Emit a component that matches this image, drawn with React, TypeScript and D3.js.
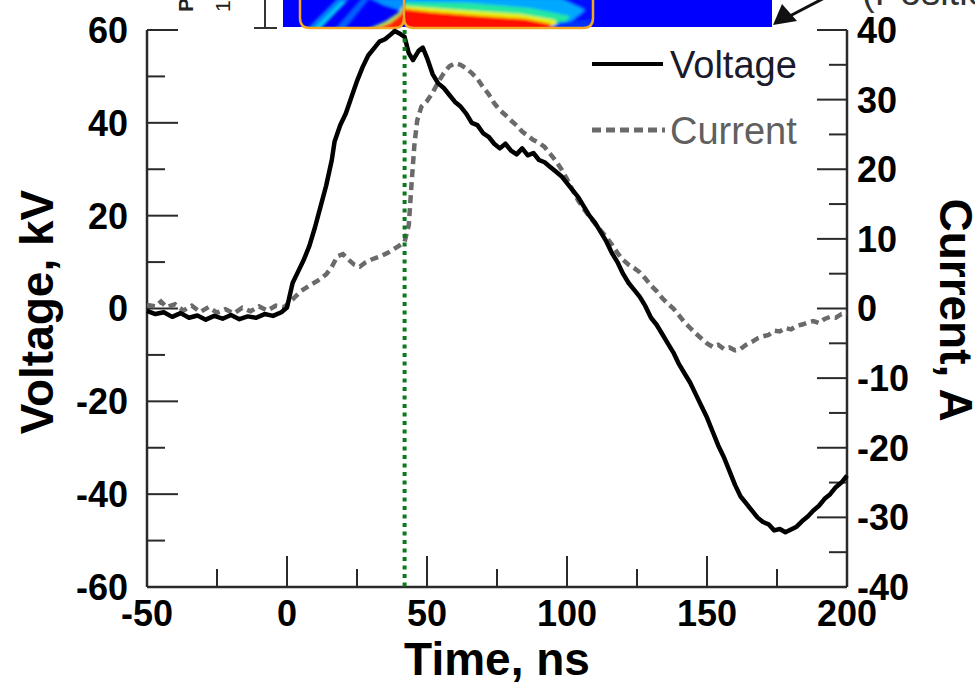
import React from "react";
import * as d3 from "d3";

const voltT = [-50,-47,-44,-41,-38,-35,-32,-29,-26,-23,-20,-17,-14,-11,-8,-5,-2,0,2,4,6,8,10,12,14,16,17,19,21,23,25,27,29,31,33,35,37,38.5,40,42,43.5,45,47,48.5,50,52,54,56,58,60,62,64,66,68,70,72,74,76,78,80,82,84,86,88,90,92,94,96,98,100,102,104,106,108,110,112,114,116,118,120,122,124,126,128,130,132,134,136,138,140,142,144,146,148,150,152,154,156,158,160,162,164,166,168,170,172,174,176,178,180,182,184,186,188,190,192,194,196,198,200];
const voltV = [-0.5,-1.2,-0.8,-1.8,-1.0,-2.0,-1.5,-2.4,-1.6,-2.2,-1.4,-2.3,-1.7,-2.0,-1.2,-1.6,-0.8,0.2,5.5,8.0,10.5,13.5,17.5,22,26.5,32,36,39.5,42,45.5,49,52,54.5,56,57.5,58,59,59.8,59.3,58.5,55,53.5,55.5,56.2,54,50.5,48.5,47.5,46,44.5,43.5,42,40,39.5,37.8,37,35.5,34.5,35.5,34,33.2,34.5,33,33.5,32,31.5,30.5,29.5,28.5,27,25.5,24,22,20,18.5,16.5,14.5,12,10,7.5,5.5,4,2.5,0.5,-2,-3.5,-5.5,-7.5,-9.5,-12,-14,-16,-18.5,-21,-23.5,-26.5,-29.5,-32,-35,-38,-40.5,-42,-43.5,-45,-46,-46.5,-47.8,-47.5,-48.2,-47.6,-47,-45.8,-44.8,-43.5,-42.5,-41,-40,-38.5,-37.5,-36];

const curT = [-50,-47,-45,-43,-40,-37,-34,-31,-28,-25,-22,-19,-16,-13,-10,-7,-4,-1,2,5,8,11,14,16,18,20,22,24,26,28,30,32,34,36,38,40,42,43.5,44.5,45.5,46.5,48,50,52,54,56,58,60,62,64,66,68,70,72,74,76,78,80,82,84,86,88,90,92,94,96,98,100,102,104,106,108,110,112,114,116,118,120,122,124,126,128,130,132,134,136,138,140,142,144,146,148,150,152,154,156,158,160,162,164,166,168,170,172,174,176,178,180,182,184,186,188,190,192,194,196,198,200];
const curI = [0.5,0.3,1.0,0.2,0.6,-0.3,0.4,-0.5,0.2,-0.6,-0.1,-0.7,0.1,-0.4,0.3,-0.3,0.4,0.2,1.3,2.5,3.3,4.0,4.9,6,7.5,7.8,7.0,6.3,6.0,6.6,7.0,7.3,7.6,8.0,8.5,9.0,9.6,12,18,23.5,27,29,29.8,31,32.5,33.8,34.8,35.2,35,34.5,33.8,33,31.8,30.8,29.5,28.5,27.8,27,26.3,25.4,24.8,24.2,23.8,23.2,22.2,21.2,20,18.6,17,15.5,14.3,13.2,12.2,11.2,10.3,9.2,8,7,6.3,5.8,5.2,4.3,3.3,2.5,1.5,0.7,0,-1,-2,-2.8,-3.6,-4.3,-5,-5.5,-5.2,-5.8,-5.6,-6.0,-5.8,-5.2,-4.8,-4.3,-4,-3.8,-3.2,-3.3,-2.8,-3,-2.5,-2.3,-2,-1.8,-2.1,-1.5,-1.2,-1.3,-0.8,-0.7];

const xTicks = [-50, 0, 50, 100, 150, 200];
const xMinor = [-25, 25, 75, 125, 175];
const yLTicks = [-60, -40, -20, 0, 20, 40, 60];
const yLMinor = [-50, -30, -10, 10, 30, 50];
const yRTicks = [-40, -30, -20, -10, 0, 10, 20, 30, 40];
const yRMinor = [-35, -25, -15, -5, 5, 15, 25, 35];
const markerTime = 42;
const legendItems = ["Voltage", "Current"];

export default function App() {
  const x = d3.scaleLinear().domain([-50, 200]).range([147, 847]);
  const yL = d3.scaleLinear().domain([-60, 60]).range([587, 30]);
  const yR = d3.scaleLinear().domain([-40, 40]).range([587, 30]);

  const voltLine = d3.line<number>().x((_, i) => x(voltT[i])).y((d) => yL(d))(voltV) || "";
  const curLine = d3.line<number>().x((_, i) => x(curT[i])).y((d) => yR(d))(curI) || "";

  const axisColor = "#2a2a2a";
  const font = "'Liberation Sans', Arial, sans-serif";
  const x0 = x(-50), x1 = x(200), yb = yL(-60), yt = yL(60);

  return (
    <svg width={975} height={683} style={{ position: "absolute", left: 0, top: 0, background: "#fff" }} fontFamily={font}>
      <defs>
        <filter id="blur" x="-10%" y="-50%" width="120%" height="200%">
          <feGaussianBlur stdDeviation="1.8" />
        </filter>
        <clipPath id="box1"><path d="M300,-2 V18 Q300,28 310,28 H394 Q404,28 404,18 V-2 Z" /></clipPath>
        <clipPath id="box2"><path d="M404,-2 V18 Q404,28 414,28 H583 Q593,28 593,18 V-2 Z" /></clipPath>
      </defs>

      {/* streak image at top */}
      <rect x={283} y={-2} width={489} height={29} fill="#0000ff" />
      <g clipPath="url(#box1)">
        <g filter="url(#blur)">
          <polygon points="306,30 338,-2 350,-2 318,30" fill="#0080ff" />
          <polygon points="313,30 341,2 346,2 319,30" fill="#00d0f0" />
          <polygon points="334,30 362,-2 370,-2 344,30" fill="#0060ff" />
          <polygon points="368,-2 404,-2 404,12 384,6" fill="#0090ff" />
          <polygon points="366,30 386,21 398,13 404,5 406,30" fill="#a0f060" />
          <polygon points="372,30 390,23 400,15 404,9 406,30" fill="#ff2000" />
        </g>
      </g>
      <g clipPath="url(#box2)">
        <g filter="url(#blur)">
          <rect x={404} y={-2} width={190} height={32} fill="#0010ff" />
          <polygon points="404,-2 560,-2 585,10 560,30 404,30" fill="#00a8ff" />
          <polygon points="404,2 470,3 530,8 570,16 560,30 404,30" fill="#20e8a0" />
          <polygon points="404,6 460,10 520,14 555,20 560,30 404,30" fill="#e8f000" />
          <polygon points="404,9 430,12 480,16 525,19 550,24 555,30 404,30" fill="#ff1000" />
          <polygon points="545,30 560,22 600,20 600,30" fill="#0030ff" />
        </g>
      </g>
      <path d="M300,-2 V18 Q300,28 310,28 H394 Q404,28 404,18 V-2" fill="none" stroke="#f5a623" strokeWidth={2.5} />
      <path d="M404,18 Q404,28 414,28 H583 Q593,28 593,18 V-2" fill="none" stroke="#f5a623" strokeWidth={2.5} />

      {/* scale bar and side text */}
      <line x1={265} y1={-2} x2={265} y2={28} stroke="#333" strokeWidth={2} />
      <line x1={254} y1={28} x2={277} y2={28} stroke="#333" strokeWidth={2} />
      <text transform="translate(193,12) rotate(-90)" fontSize={21} fontWeight="bold" fill="#222">Position</text>
      <text transform="translate(230,12) rotate(-90)" fontSize={21} fill="#222">1 mm</text>

      {/* arrow top right */}
      <line x1={832} y1={-6} x2={786} y2={18} stroke="#111" strokeWidth={3} />
      <polygon points="773,25 782,4 797,21" fill="#111" />
      <text x={862} y={5} fontSize={38} fill="#333">(Position)</text>

      {/* axes */}
      <line x1={x0} y1={yt} x2={x0} y2={yb} stroke={axisColor} strokeWidth={2.5} />
      <line x1={x1} y1={yt} x2={x1} y2={yb} stroke={axisColor} strokeWidth={2.5} />
      <line x1={x0} y1={yb} x2={x1} y2={yb} stroke={axisColor} strokeWidth={2.5} />

      {xTicks.map((t) => (
        <g key={"xt" + t}>
          <line x1={x(t)} y1={yb} x2={x(t)} y2={yb - 31} stroke={axisColor} strokeWidth={2} />
          <text x={x(t)} y={626} textAnchor="middle" fontSize={36} fontWeight="bold" fill="#000">{t}</text>
        </g>
      ))}
      {xMinor.map((t) => (
        <line key={"xm" + t} x1={x(t)} y1={yb} x2={x(t)} y2={yb - 18} stroke={axisColor} strokeWidth={2} />
      ))}
      {yLTicks.map((v) => (
        <g key={"yl" + v}>
          <line x1={x0} y1={yL(v)} x2={x0 + 31} y2={yL(v)} stroke={axisColor} strokeWidth={2} />
          <text x={128} y={yL(v)} dy="0.36em" textAnchor="end" fontSize={36} fontWeight="bold" fill="#000">{v}</text>
        </g>
      ))}
      {yLMinor.map((v) => (
        <line key={"ylm" + v} x1={x0} y1={yL(v)} x2={x0 + 18} y2={yL(v)} stroke={axisColor} strokeWidth={2} />
      ))}
      {yRTicks.map((v) => (
        <g key={"yr" + v}>
          <line x1={x1} y1={yR(v)} x2={x1 - 30} y2={yR(v)} stroke={axisColor} strokeWidth={2} />
          <text x={857} y={yR(v)} dy="0.36em" textAnchor="start" fontSize={36} fontWeight="bold" fill="#000">{v}</text>
        </g>
      ))}
      {yRMinor.map((v) => (
        <line key={"yrm" + v} x1={x1} y1={yR(v)} x2={x1 - 18} y2={yR(v)} stroke={axisColor} strokeWidth={2} />
      ))}

      {/* axis titles */}
      <text x={497} y={675} textAnchor="middle" fontSize={46} fontWeight="bold" fill="#000">Time, ns</text>
      <text transform="translate(53,312) rotate(-90)" textAnchor="middle" fontSize={46} fontWeight="bold" fill="#000">Voltage, kV</text>
      <text transform="translate(940,310) rotate(90)" textAnchor="middle" fontSize={46} fontWeight="bold" fill="#000">Current, A</text>

      {/* data */}
      <path d={curLine} fill="none" stroke="#6a6a6a" strokeWidth={4.5} strokeDasharray="8,5" />
      <path d={voltLine} fill="none" stroke="#000" strokeWidth={4.5} strokeLinejoin="round" />
      <line x1={x(markerTime)} y1={yt} x2={x(markerTime)} y2={yb} stroke="#0b7a1a" strokeWidth={4} strokeDasharray="4,4.5" />

      {/* legend */}
      <line x1={592} y1={64} x2={663} y2={64} stroke="#000" strokeWidth={4} />
      <text x={670} y={78} fontSize={38} fill="#1a1a2a">{legendItems[0]}</text>
      <line x1={592} y1={130} x2={665} y2={130} stroke="#6a6a6a" strokeWidth={5} strokeDasharray="9,5" />
      <text x={670} y={144} fontSize={38} fill="#606060">{legendItems[1]}</text>
    </svg>
  );
}
